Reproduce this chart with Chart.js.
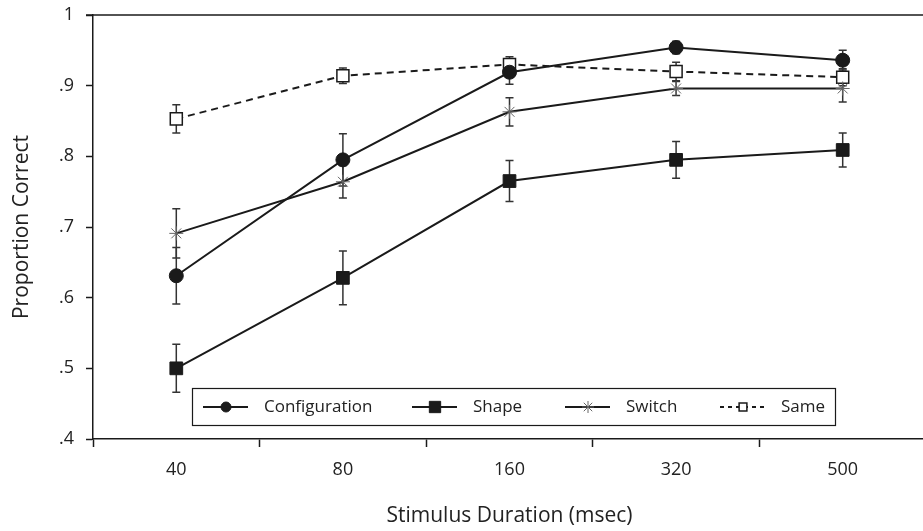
<!DOCTYPE html>
<html>
<head>
  <title>Proportion Correct by Stimulus Duration</title>
  <meta charset="utf-8">
  <style type="text/css">
    html, body {
      margin: 0;
      padding: 0;
      background: #fff;
      overflow: hidden;
    }
    #wrap {
      width: 923px;
      height: 531px;
      overflow: hidden;
    }
  </style>
  <script src="https://cdn.jsdelivr.net/npm/chart.js@4/dist/chart.umd.min.js"></script>
</head>
<body>
  <div id="wrap">
    <canvas id="graph" width="936" height="531"></canvas>
  </div>

  <script>
    // data

    var DURATIONS = ['40', '80', '160', '320', '500'];

    var CONFIGURATION     = [0.631, 0.795, 0.919, 0.954, 0.936];
    var CONFIGURATION_ERR = [0.040, 0.037, 0.017, 0.009, 0.014];

    var SHAPE     = [0.500, 0.628, 0.765, 0.795, 0.809];
    var SHAPE_ERR = [0.034, 0.038, 0.029, 0.026, 0.024];

    var SWITCH     = [0.691, 0.764, 0.863, 0.896, 0.896];
    var SWITCH_ERR = [0.035, 0.023, 0.020, 0.010, 0.019];

    var SAME     = [0.853, 0.914, 0.930, 0.920, 0.912];
    var SAME_ERR = [0.020, 0.011, 0.011, 0.013, 0.012];

    var Y_MIN = 0.4, Y_MAX = 1, Y_STEP = 0.1;

    // styles

    var INK = '#1a1a1a'
      , GREY = '#666'
      , FONT = "'Open Sans', 'Noto Sans', sans-serif";

    Chart.defaults.font.family = FONT;
    Chart.defaults.color = '#222';

    function series(label, values, errors, style) {
      var ds = {
        label: label,
        data: values,
        errors: errors,
        borderColor: INK,
        borderWidth: 2,
        tension: 0,
        fill: false,
        pointBorderColor: INK,
        pointBackgroundColor: INK,
        pointBorderWidth: 1,
        pointHoverRadius: 0
      };
      for (var key in style) ds[key] = style[key];
      return ds;
    }

    var datasets = [
      series('Configuration', CONFIGURATION, CONFIGURATION_ERR, {
        pointStyle: 'circle', pointRadius: 7, legendRadius: 5
      }),
      series('Shape', SHAPE, SHAPE_ERR, {
        pointStyle: 'rect', pointRadius: 9, legendRadius: 8
      }),
      series('Switch', SWITCH, SWITCH_ERR, {
        pointStyle: 'star', pointRadius: 7, pointBorderColor: GREY,
        pointBorderWidth: 1, legendRadius: 6
      }),
      series('Same', SAME, SAME_ERR, {
        pointStyle: 'rect', pointRadius: 8.5, pointBackgroundColor: '#fff',
        pointBorderWidth: 1.5, borderDash: [7, 5], legendRadius: 5.5
      })
    ];

    // vertical error bars with small caps, drawn under the markers
    var errorBars = {
      id: 'errorBars',
      beforeDatasetsDraw: function(chart) {
        var ctx = chart.ctx, y = chart.scales.y;
        ctx.save();
        ctx.strokeStyle = '#333';
        ctx.lineWidth = 1.5;
        chart.data.datasets.forEach(function(ds, i) {
          var meta = chart.getDatasetMeta(i);
          meta.data.forEach(function(pt, j) {
            var hi = y.getPixelForValue(ds.data[j] + ds.errors[j])
              , lo = y.getPixelForValue(ds.data[j] - ds.errors[j]);
            ctx.beginPath();
            ctx.moveTo(pt.x, hi); ctx.lineTo(pt.x, lo);
            ctx.moveTo(pt.x - 4, hi); ctx.lineTo(pt.x + 4, hi);
            ctx.moveTo(pt.x - 4, lo); ctx.lineTo(pt.x + 4, lo);
            ctx.stroke();
          });
        });
        ctx.restore();
      }
    };

    // top frame line plus the boxed legend sitting inside the plot
    var frame = {
      id: 'frame',
      afterDraw: function(chart) {
        var ctx = chart.ctx, area = chart.chartArea;
        ctx.save();
        ctx.strokeStyle = INK;
        ctx.lineWidth = 1.5;
        ctx.beginPath();
        ctx.moveTo(area.left - 7, area.top);
        ctx.lineTo(area.right, area.top);
        ctx.stroke();

        var box = { x: area.left + 99, y: area.bottom - 51, w: 643, h: 37 };
        ctx.lineWidth = 1.2;
        ctx.strokeRect(box.x + 0.5, box.y + 0.5, box.w, box.h);

        var offsets = [11, 220, 373, 528]
          , cy = box.y + box.h / 2 + 0.5;
        ctx.font = '17px ' + FONT;
        ctx.textBaseline = 'middle';
        ctx.textAlign = 'left';
        chart.data.datasets.forEach(function(ds, i) {
          var x0 = box.x + offsets[i];
          ctx.strokeStyle = INK;
          ctx.lineWidth = 2;
          ctx.setLineDash(ds.borderDash ? [4, 4] : []);
          ctx.beginPath();
          ctx.moveTo(x0, cy);
          ctx.lineTo(x0 + 45, cy);
          ctx.stroke();
          ctx.setLineDash([]);
          ctx.fillStyle = ds.pointBackgroundColor;
          ctx.strokeStyle = ds.pointBorderColor;
          ctx.lineWidth = ds.pointBorderWidth;
          Chart.helpers.drawPoint(ctx, {
            pointStyle: ds.pointStyle,
            radius: ds.legendRadius,
            rotation: 0,
            borderWidth: ds.pointBorderWidth
          }, x0 + 23, cy);
          ctx.fillStyle = '#222';
          ctx.fillText(ds.label, x0 + 61, cy);
        });
        ctx.restore();
      }
    };

    new Chart(document.getElementById('graph'), {
      type: 'line',
      data: { labels: DURATIONS, datasets: datasets },
      plugins: [errorBars, frame],
      options: {
        responsive: false,
        animation: false,
        devicePixelRatio: 1,
        layout: { padding: { top: 15, right: 2, bottom: 0, left: 0 } },
        plugins: {
          legend: { display: false },
          tooltip: { enabled: false }
        },
        scales: {
          x: {
            offset: true,
            grid: {
              offset: true,
              drawOnChartArea: false,
              tickLength: 8,
              tickColor: INK,
              tickWidth: 1.5
            },
            border: { color: INK, width: 1.5 },
            ticks: { padding: 12, font: { size: 18 }, maxRotation: 0 },
            title: {
              display: true,
              text: 'Stimulus Duration (msec)',
              font: { size: 21 },
              padding: { top: 0, bottom: 2 }
            },
            afterFit: function(scale) { scale.height = 92; }
          },
          y: {
            min: Y_MIN,
            max: Y_MAX,
            ticks: {
              stepSize: Y_STEP,
              padding: 12,
              font: { size: 18 },
              callback: function(v) {
                return v >= 1 ? '1' : v.toFixed(1).replace(/^0/, '');
              }
            },
            grid: {
              drawOnChartArea: false,
              tickLength: 7,
              tickColor: INK,
              tickWidth: 1.5
            },
            border: { color: INK, width: 1.5 },
            title: {
              display: true,
              text: 'Proportion Correct',
              font: { size: 21 },
              padding: { top: 9, bottom: 0 }
            },
            afterFit: function(scale) {
              scale.width = 93;
              // let the layout padding alone decide where the plot starts
              scale.paddingTop = 0;
              scale.paddingBottom = 0;
            }
          }
        }
      }
    });
  </script>
</body>
</html>
